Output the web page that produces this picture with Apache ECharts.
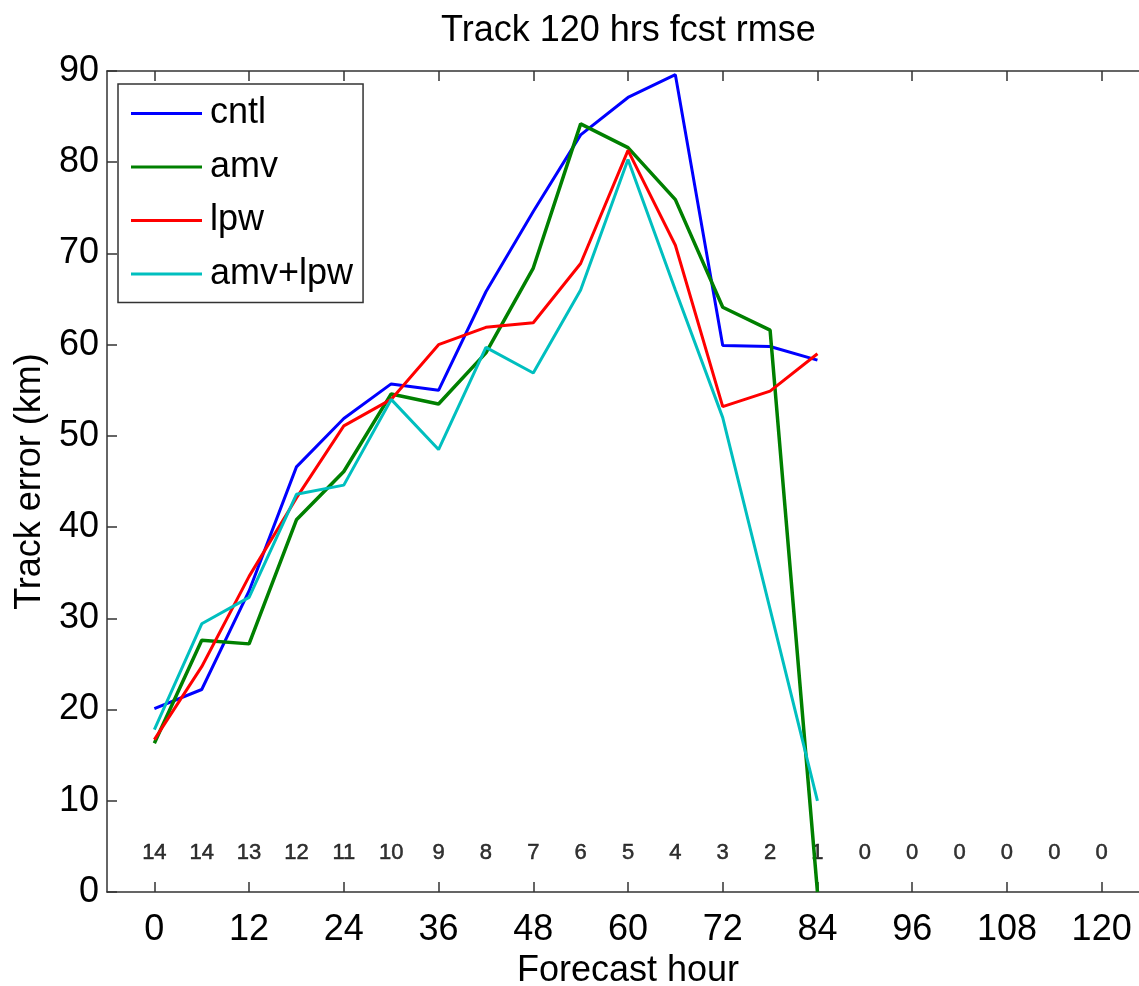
<!DOCTYPE html>
<html>
<head>
<meta charset="utf-8">
<script src="https://cdn.jsdelivr.net/npm/echarts@6/dist/echarts.min.js"></script>
<style>
  html, body { margin: 0; padding: 0; background: #fff; }
  #chart { width: 1139px; height: 986px; }
</style>
</head>
<body>
<div id="chart"></div>
<script>
// forecast hours with data
const hours = [0, 6, 12, 18, 24, 30, 36, 42, 48, 54, 60, 66, 72, 78, 84];
const cntl = [20.1, 22.2, 33.0, 46.6, 51.9, 55.7, 55.0, 65.8, 74.6, 83.0, 87.1, 89.6, 59.9, 59.8, 58.3];
const amv = [16.3, 27.6, 27.2, 40.8, 46.1, 54.6, 53.5, 59.1, 68.4, 84.2, 81.6, 75.9, 64.1, 61.6, 0];
const lpw = [16.7, 24.7, 34.6, 43.2, 51.1, 54.0, 60.0, 61.9, 62.4, 68.9, 81.3, 70.9, 53.2, 54.9, 59.0];
const amvLpw = [17.8, 29.4, 32.3, 43.6, 44.6, 54.0, 48.5, 59.7, 56.9, 66.0, 80.3, 66.0, 52.0, 31.0, 10.0];

// number of cases at each 6-hour step
const countHours = [0, 6, 12, 18, 24, 30, 36, 42, 48, 54, 60, 66, 72, 78, 84, 90, 96, 102, 108, 114, 120];
const counts = [14, 14, 13, 12, 11, 10, 9, 8, 7, 6, 5, 4, 3, 2, 1, 0, 0, 0, 0, 0, 0];
const countLevel = 4.3;

const xTicks = [0, 12, 24, 36, 48, 60, 72, 84, 96, 108, 120];
const seriesNames = ['cntl', 'amv', 'lpw', 'amv+lpw'];
const colors = ['#0000ff', '#008000', '#ff0000', '#00bfbf'];

const font = "'Liberation Sans', Arial, sans-serif";
const axisColor = '#333';

const chart = echarts.init(document.getElementById('chart'));

function pair(ys) {
  return hours.map((h, i) => [h, ys[i]]);
}

function lineSeries(name, ys, color, width) {
  return {
    name: name,
    type: 'line',
    data: pair(ys),
    symbol: 'none',
    showSymbol: false,
    lineStyle: { color: color, width: width },
    itemStyle: { color: color },
    animation: false
  };
}

const xBase = {
  type: 'value',
  min: -6,
  max: 126,
  splitLine: { show: false },
  axisLine: { show: true, onZero: false, lineStyle: { color: axisColor, width: 1.5 } },
  axisTick: { show: true, inside: true, length: 10, customValues: xTicks, lineStyle: { color: axisColor, width: 1.5 } }
};

const yBase = {
  type: 'value',
  min: 0,
  max: 90,
  interval: 10,
  splitLine: { show: false },
  axisLine: { show: true, onZero: false, lineStyle: { color: axisColor, width: 1.5 } },
  axisTick: { show: true, inside: true, length: 10, lineStyle: { color: axisColor, width: 1.5 } }
};

const option = {
  backgroundColor: '#fff',
  textStyle: { fontFamily: font },
  title: {
    text: 'Track 120 hrs fcst rmse',
    left: 436,
    top: 8,
    textStyle: { fontFamily: font, fontSize: 36, fontWeight: 'normal', color: '#000' }
  },
  legend: {
    data: seriesNames.map((n) => ({ name: n, icon: 'rect' })),
    orient: 'vertical',
    left: 118,
    top: 84,
    padding: [11, 10, 10, 13],
    itemGap: 16.5,
    itemWidth: 71,
    itemHeight: 3,
    backgroundColor: '#fff',
    borderColor: axisColor,
    borderWidth: 1.5,
    borderRadius: 0,
    textStyle: { fontFamily: font, fontSize: 36, color: '#000', lineHeight: 37, padding: [0, 0, 0, 3] }
  },
  grid: { left: 107, top: 71, width: 1042, height: 821, containLabel: false, outerBoundsMode: 'none' },
  xAxis: [
    Object.assign({}, xBase, {
      position: 'bottom',
      name: 'Forecast hour',
      nameLocation: 'middle',
      nameGap: 60,
      nameTextStyle: { fontFamily: font, fontSize: 36, color: '#000' },
      axisLabel: { show: true, customValues: xTicks, fontFamily: font, fontSize: 36, color: '#000', margin: 20 }
    }),
    Object.assign({}, xBase, { position: 'top', axisLabel: { show: false } })
  ],
  yAxis: [
    Object.assign({}, yBase, {
      position: 'left',
      name: 'Track error (km)',
      nameLocation: 'middle',
      nameGap: 51,
      nameTextStyle: { fontFamily: font, fontSize: 36, color: '#000' },
      axisLabel: { show: true, fontFamily: font, fontSize: 36, color: '#000', margin: 8 }
    }),
    Object.assign({}, yBase, { position: 'right', axisLabel: { show: false } })
  ],
  series: [
    lineSeries('cntl', cntl, colors[0], 3),
    lineSeries('amv', amv, colors[1], 3.5),
    lineSeries('lpw', lpw, colors[2], 3),
    lineSeries('amv+lpw', amvLpw, colors[3], 3),
    {
      name: 'count',
      type: 'scatter',
      symbolSize: 0,
      data: countHours.map((h, i) => [h, countLevel, counts[i]]),
      label: {
        show: true,
        position: 'inside',
        formatter: (p) => String(p.value[2]),
        fontFamily: font,
        fontSize: 22,
        color: '#000',
        textBorderColor: '#000',
        textBorderWidth: 0.5
      },
      silent: true,
      animation: false
    }
  ]
};

chart.setOption(option);
</script>
</body>
</html>
